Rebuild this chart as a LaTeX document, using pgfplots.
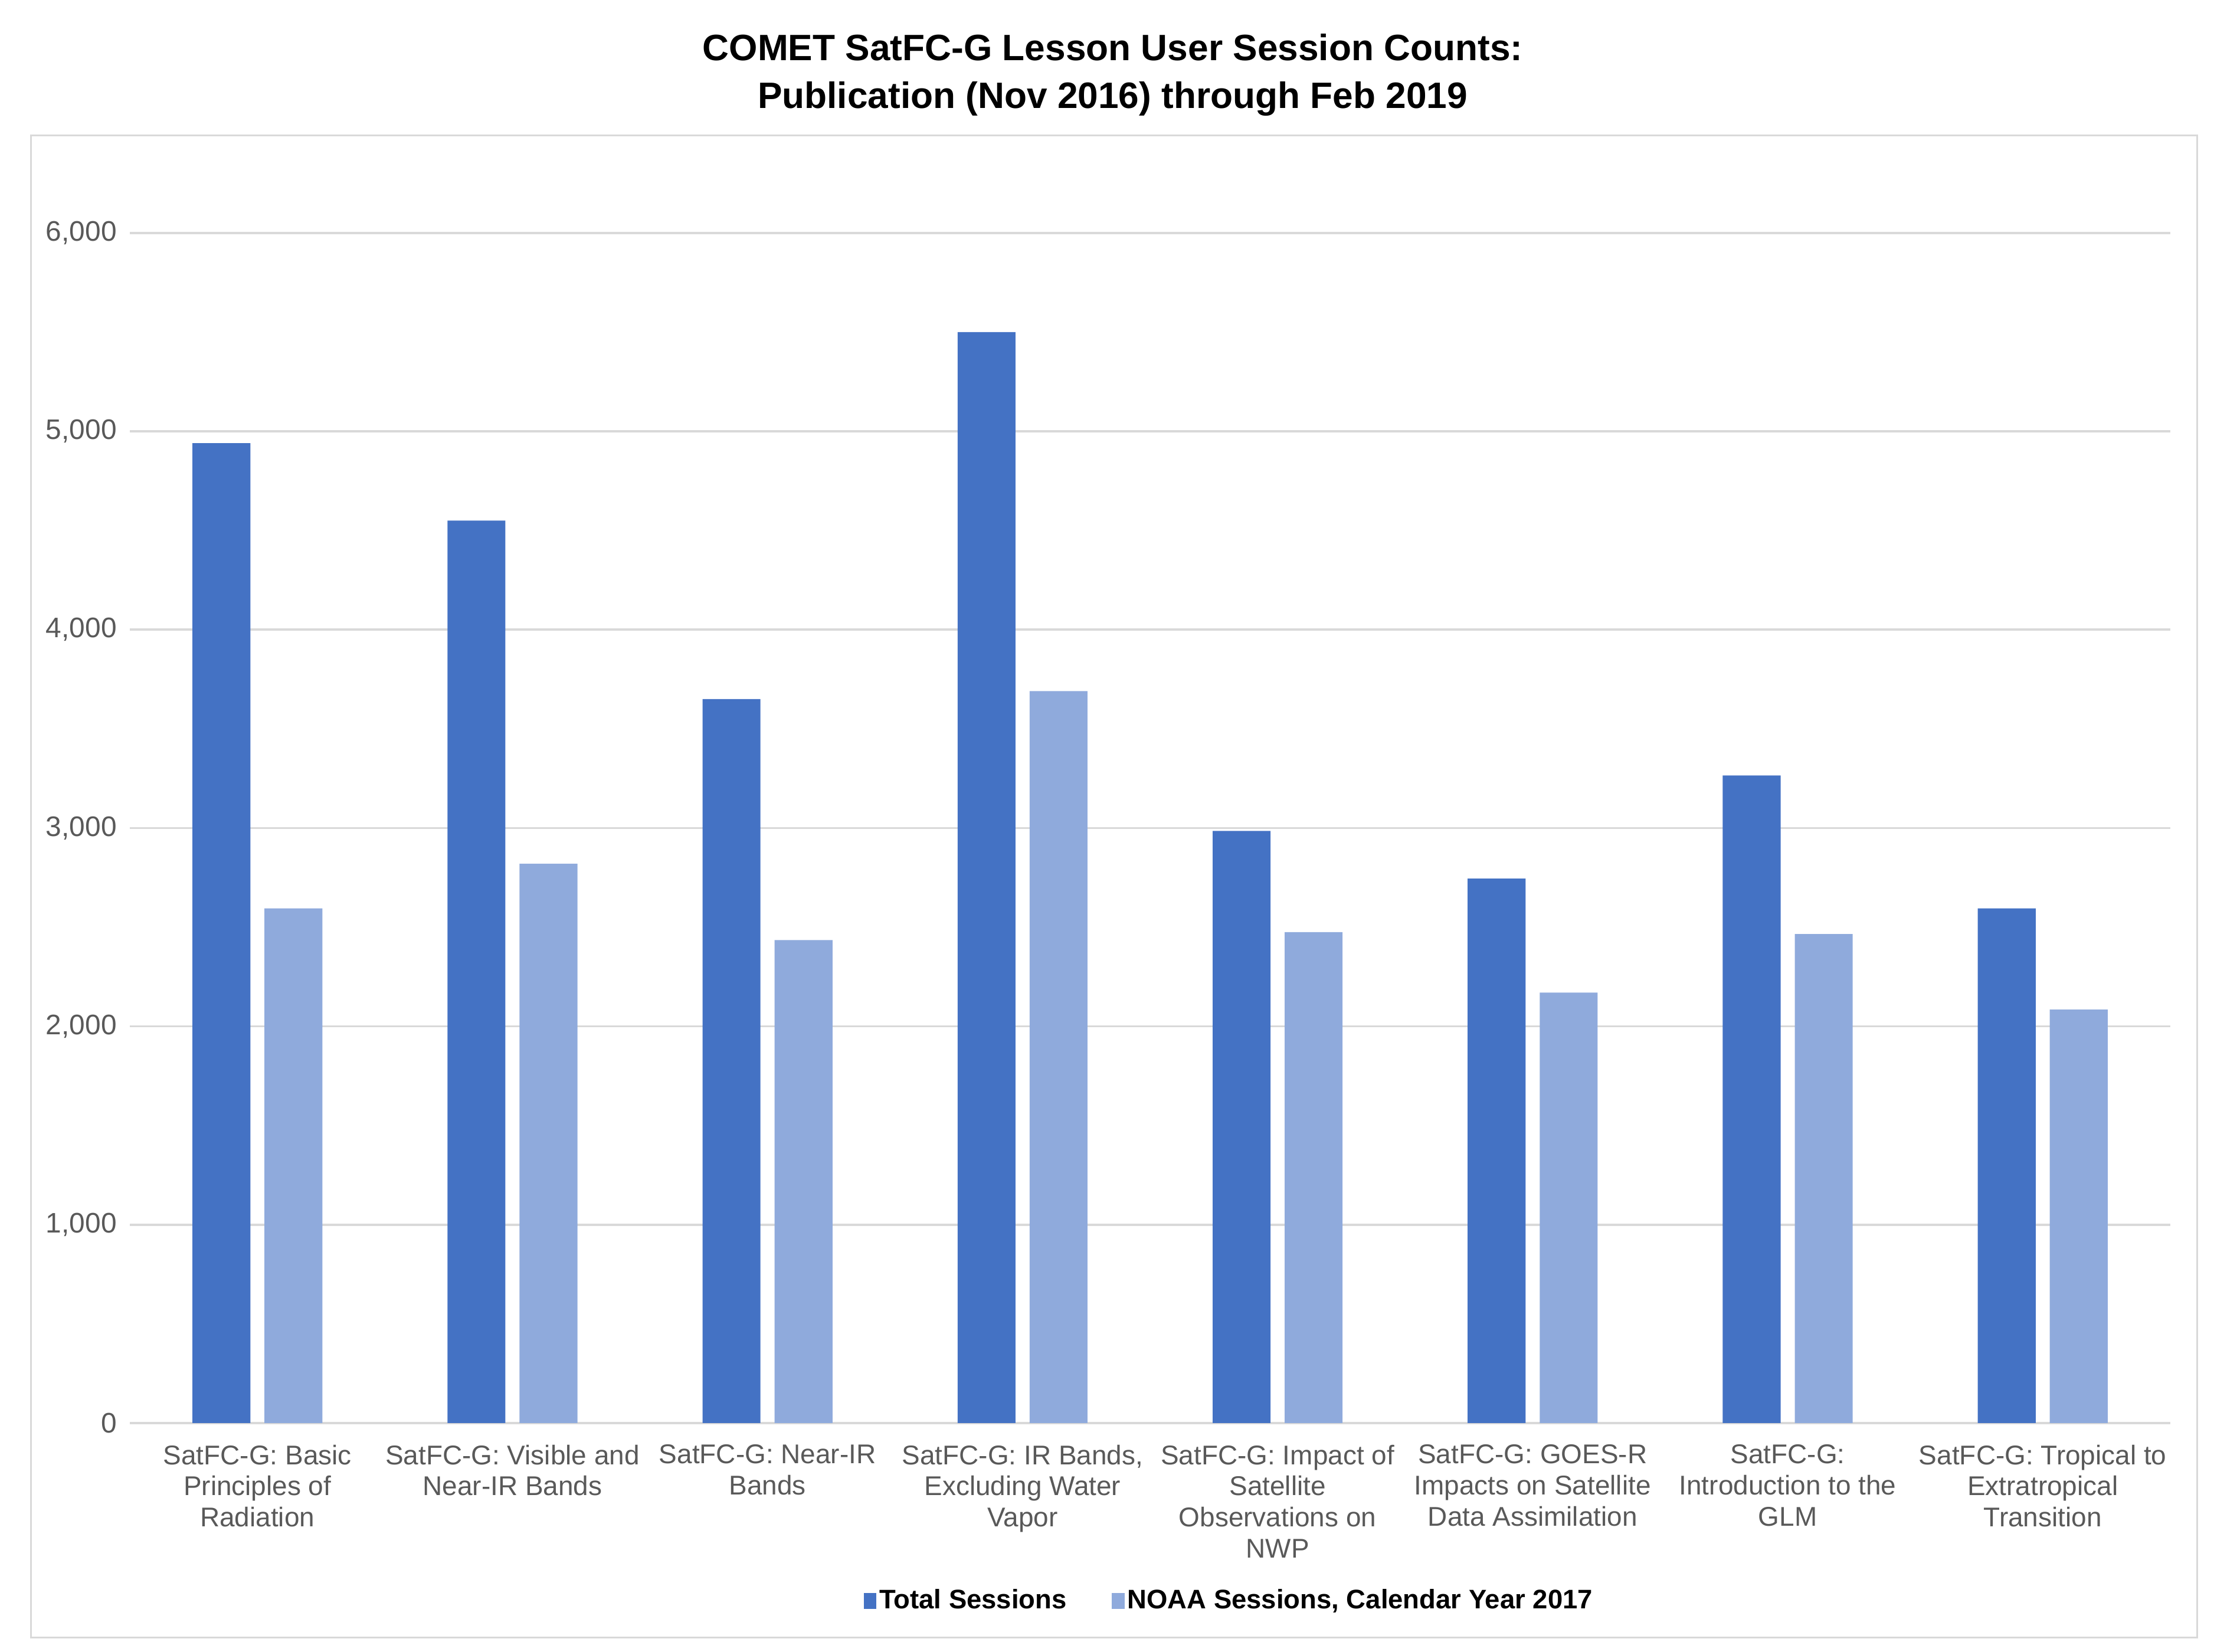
\documentclass[border=0pt]{standalone}
\usepackage{pgfplots}
\pgfplotsset{compat=1.18}
\usepackage{fontspec}
\setmainfont{Liberation Sans}
\definecolor{dblue}{HTML}{4472C4}
\definecolor{lblue}{HTML}{8FAADC}
\definecolor{gridc}{HTML}{D9D9D9}
\definecolor{labc}{HTML}{595959}
\begin{document}
\begin{tikzpicture}
\useasboundingbox (0,0) rectangle (784pt,585pt);
\draw[gridc, line width=0.6pt] (11pt,5pt) rectangle (778pt,537pt);
\node[align=center, font=\fontsize{13}{17}\selectfont\bfseries, inner sep=0pt] at (394pt,558.5pt)
  {COMET SatFC-G Lesson User Session Counts:\\Publication (Nov 2016) through Feb 2019};
\begin{axis}[
  at={(46pt,81pt)}, anchor=south west,
  scale only axis, width=722.5pt, height=421.5pt,
  xmin=-0.5, xmax=7.5, ymin=0, ymax=6000,
  axis line style={draw=none},
  ymajorgrids, grid style={gridc, line width=0.75pt},
  ytick={0,1000,...,6000},
  xtick={0,...,7},
  major tick length=0pt,
  xticklabels={
    {SatFC-G: Basic\\Principles of\\Radiation},
    {SatFC-G: Visible and\\Near-IR Bands},
    {SatFC-G: Near-IR\\Bands},
    {SatFC-G: IR Bands,\\Excluding Water\\Vapor},
    {SatFC-G: Impact of\\Satellite\\Observations on\\NWP},
    {SatFC-G: GOES-R\\Impacts on Satellite\\Data Assimilation},
    {SatFC-G:\\Introduction to the\\GLM},
    {SatFC-G: Tropical to\\Extratropical\\Transition}},
  xticklabel style={align=center, anchor=north, inner sep=0pt, yshift=-7.5pt,
    font=\fontsize{9.6}{11}\selectfont, text=labc},
  yticklabel style={anchor=east, inner sep=0pt, xshift=-4.5pt,
    font=\fontsize{10}{12}\selectfont, text=labc},
  /pgf/number format/assume math mode=true,
  /pgf/number format/1000 sep={,},
  ybar=5pt, bar width=20.5pt,
  legend style={at={(0.539,-0.1495)}, anchor=center, draw=none, fill=none,
    legend columns=2, font=\fontsize{9.5}{11}\selectfont\bfseries,
    /tikz/every even column/.append style={column sep=15pt},
    nodes={inner sep=1pt}},
  legend image code/.code={\fill[#1] (0pt,-2.75pt) rectangle (4.5pt,2.75pt);},
]
\addplot[fill=dblue, draw=none] coordinates {(0,4940) (1,4550) (2,3650) (3,5500) (4,2985) (5,2745) (6,3265) (7,2595)};
\addplot[fill=lblue, draw=none] coordinates {(0,2595) (1,2820) (2,2435) (3,3690) (4,2475) (5,2170) (6,2465) (7,2085)};
\legend{Total Sessions, {NOAA Sessions, Calendar Year 2017}}
\end{axis}
\end{tikzpicture}
\end{document}
